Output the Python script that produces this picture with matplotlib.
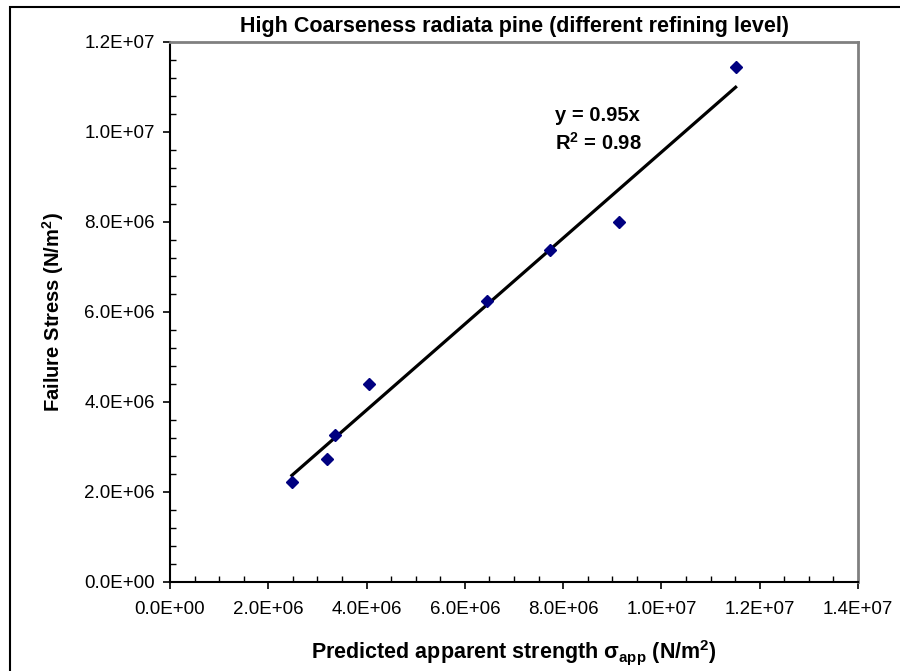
import matplotlib.pyplot as plt
from matplotlib.patches import Rectangle
from matplotlib.ticker import MultipleLocator
import numpy as np

plt.rcParams['font.family'] = ['Liberation Sans', 'DejaVu Sans']
plt.rcParams['mathtext.default'] = 'regular'

# predicted apparent strength vs measured failure stress (N/m2)
predicted = [2.48e6, 3.20e6, 3.36e6, 4.05e6, 6.45e6, 7.73e6, 9.14e6, 11.51e6]
failure = [2.21e6, 2.73e6, 3.27e6, 4.40e6, 6.25e6, 7.38e6, 7.99e6, 11.44e6]

title = 'High Coarseness radiata pine (different refining level)'
xlabel = 'Predicted apparent strength $\\sigma_{app}$ (N/m$^{2}$)'
ylabel = 'Failure Stress (N/m$^{2}$)'

x = np.array(predicted)
y = np.array(failure)

# linear fit forced through the origin
slope = np.sum(x * y) / np.sum(x * x)
r2 = 1 - np.sum((y - slope * x) ** 2) / np.sum((y - y.mean()) ** 2)

fig = plt.figure(figsize=(9, 6.71), dpi=100)
ax = fig.add_axes([170 / 900, 1 - 582 / 671, 688 / 900, 540.3 / 671])

# outer chart frame
fig.patches.append(Rectangle((10 / 900, -0.1), 1.2, 1.1 - 7 / 671,
                             transform=fig.transFigure, fill=False,
                             edgecolor='black', linewidth=1.5))

xs = np.array([x.min(), x.max()])
ax.plot(xs, slope * xs, color='black', linewidth=2.3, zorder=3)
ax.plot(x, y, linestyle='none', marker='D', markersize=6.5,
        color='#000080', zorder=4)

ax.set_xlim(0, 1.4e7)
ax.set_ylim(0, 1.2e7)
ax.xaxis.set_major_locator(MultipleLocator(2e6))
ax.xaxis.set_minor_locator(MultipleLocator(5e5))
ax.yaxis.set_major_locator(MultipleLocator(2e6))
ax.yaxis.set_minor_locator(MultipleLocator(4e5))


def sci(v, pos):
    if v <= 0:
        return '0.0E+00'
    e = int(np.floor(np.log10(v) + 1e-9))
    return '%.1fE%+03d' % (v / 10 ** e, e)


ax.xaxis.set_major_formatter(sci)
ax.yaxis.set_major_formatter(sci)

ax.tick_params(which='major', direction='out', length=5, width=1.2,
               labelsize=13.5, pad=6)
ax.tick_params(which='minor', direction='in', length=4, width=1.0)
ax.tick_params(axis='x', which='major', pad=9)

for s in ['left', 'bottom']:
    ax.spines[s].set_color('black')
    ax.spines[s].set_linewidth(1.5)
for s in ['top', 'right']:
    ax.spines[s].set_color('#808080')
    ax.spines[s].set_linewidth(2)

ax.set_title(title, fontsize=15.5, fontweight='bold', pad=7)
ax.set_xlabel(xlabel, fontsize=15.5, fontweight='bold', labelpad=14)
ax.set_ylabel(ylabel, fontsize=14.5, fontweight='bold', labelpad=13)

ax.text(0.622, 0.864, 'y = %.2fx' % slope, transform=ax.transAxes,
        ha='center', va='center', fontsize=14.5, fontweight='bold')
ax.text(0.622, 0.8125, 'R$^{2}$ = %.2f' % r2, transform=ax.transAxes,
        ha='center', va='center', fontsize=14.5, fontweight='bold')

fig.savefig('out.png', dpi=100)
